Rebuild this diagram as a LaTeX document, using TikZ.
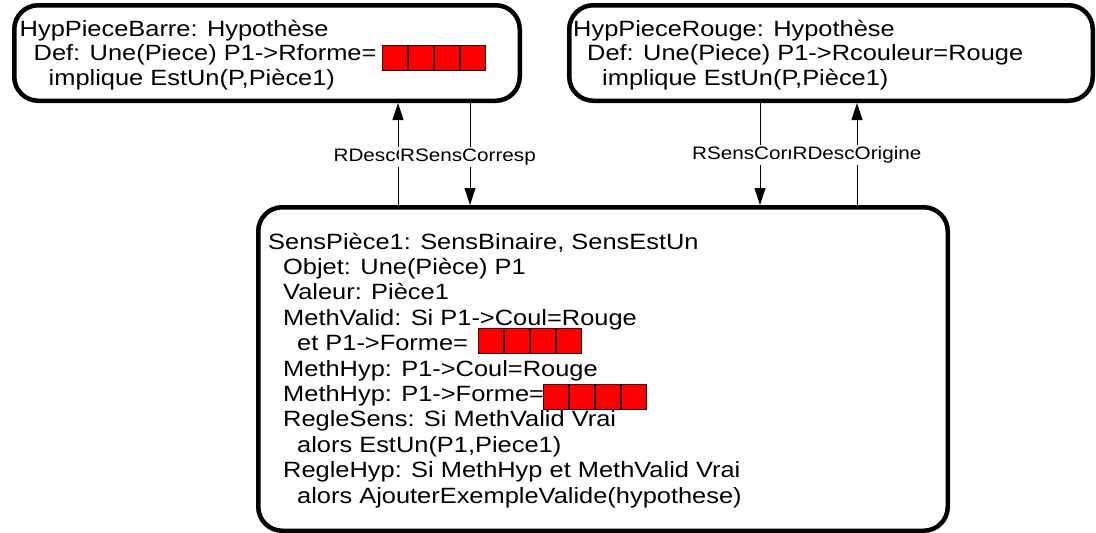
\documentclass[tikz,border=0pt]{standalone}
\usepackage{fontspec}
\setmainfont{Liberation Sans}[FakeStretch=1.15]
\usetikzlibrary{arrows.meta}
\begin{document}
\begin{tikzpicture}[x=1pt,y=-1pt,
  box/.style={draw=black,line width=4.5pt,rounded corners=24pt,anchor=north west,inner sep=0pt},
  txt/.style={anchor=base west,inner sep=0pt,align=left},
  lab/.style={fill=white,inner sep=1.5pt,font=\fontsize{18}{20}\selectfont},
  sq/.style={draw=black!80!red,line width=1pt,fill=red,minimum size=25pt,inner sep=0pt},
  arr/.style={line width=0.8pt,-{Triangle[length=17pt,width=11pt]}}]
\useasboundingbox (0,0) rectangle (1096,533);
% boxes
\node[box,minimum width=505.5pt,minimum height=95.5pt] (b1) at (12,3) {};
\node[box,minimum width=523.5pt,minimum height=95.5pt] (b2) at (567,3) {};
\node[box,minimum width=689.5pt,minimum height=323.5pt] (b3) at (256,205) {};
% texts (anchor = baseline of last line)
\node[txt,font=\fontsize{22.1}{24.2}\selectfont] (t1) at (19.5,85) {HypPieceBarre: Hypothèse\\
\hspace*{14pt}Def: Une(Piece) P1->Rforme=\\
\hspace*{29pt}implique EstUn(P,Pièce1)};
\node[txt,font=\fontsize{22.1}{24.2}\selectfont] (t2) at (573,85) {HypPieceRouge: Hypothèse\\
\hspace*{14pt}Def: Une(Piece) P1->Rcouleur=Rouge\\
\hspace*{29pt}implique EstUn(P,Pièce1)};
\node[txt,font=\fontsize{22.1}{25.4}\selectfont] (t3) at (268,503) {SensPièce1: SensBinaire, SensEstUn\\
\hspace*{15pt}Objet: Une(Pièce) P1\\
\hspace*{15pt}Valeur: Pièce1\\
\hspace*{15pt}MethValid: Si P1->Coul=Rouge\\
\hspace*{29pt}et P1->Forme=\\
\hspace*{15pt}MethHyp: P1->Coul=Rouge\\
\hspace*{15pt}MethHyp: P1->Forme=\\
\hspace*{15pt}RegleSens: Si MethValid Vrai\\
\hspace*{29pt}alors EstUn(P1,Piece1)\\
\hspace*{15pt}RegleHyp: Si MethHyp et MethValid Vrai\\
\hspace*{29pt}alors AjouterExempleValide(hypothese)};
% red squares
\foreach \i in {0,...,3}{
  \node[sq] (sa\i) at (395+26*\i,57.5) {};
  \node[sq] (sb\i) at (491+26*\i,340.5) {};
  \node[sq] (sc\i) at (556+26*\i,397) {};
}
% connectors
\coordinate (xa) at (398,0);
\coordinate (xb) at (470,0);
\coordinate (xc) at (760,0);
\coordinate (xd) at (857,0);
\draw[arr] (b3.north -| xa) -- (b1.south -| xa);
\draw[arr] (b1.south -| xb) -- (b3.north -| xb);
\draw[arr] (b2.south -| xc) -- (b3.north -| xc);
\draw[arr] (b3.north -| xd) -- (b2.south -| xd);
% labels
\node[lab] (la) at (398,157) {RDescOrigine};
\node[lab] (lb) at (468,157) {RSensCorresp};
\node[lab] (lc) at (760,155) {RSensCorresp};
\node[lab] (ld) at (857,155) {RDescOrigine};
\end{tikzpicture}
\end{document}
